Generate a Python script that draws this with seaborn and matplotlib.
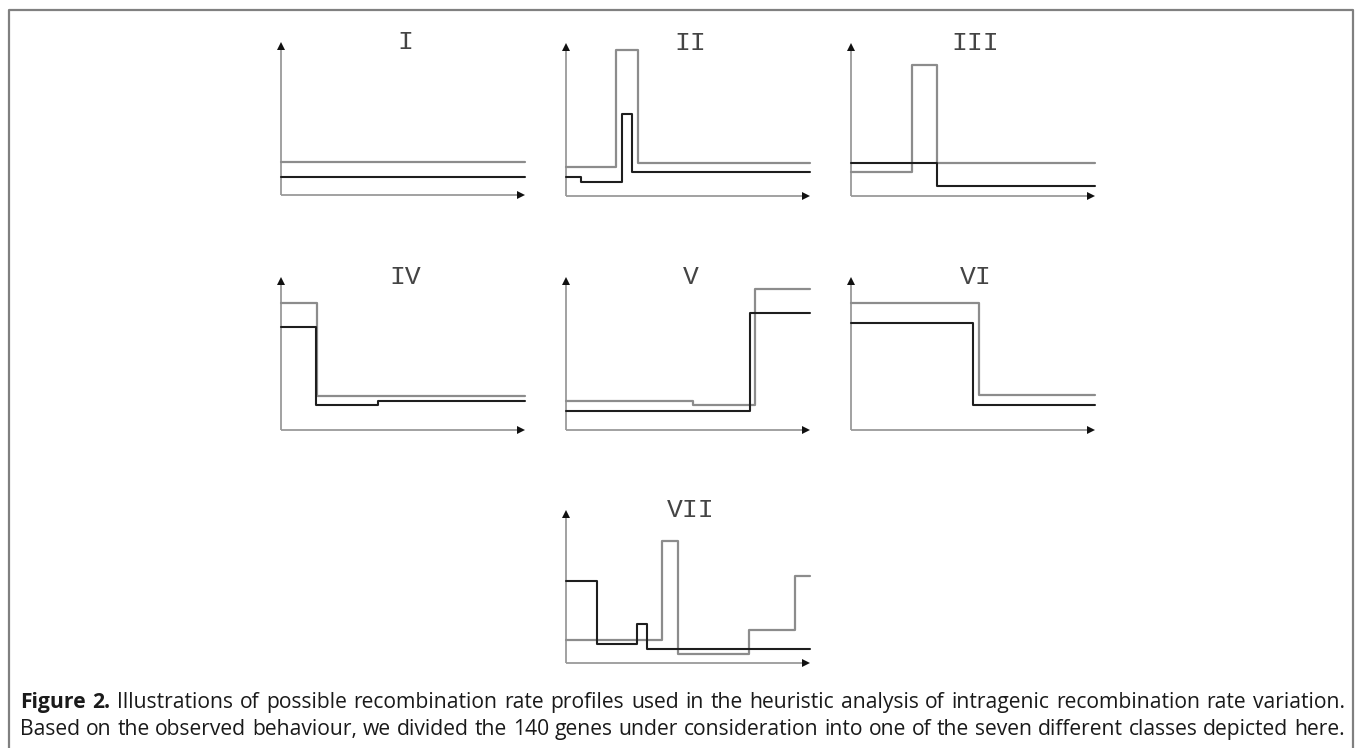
import matplotlib
matplotlib.use("Agg")
import matplotlib.pyplot as plt
import seaborn as sns
from matplotlib.lines import Line2D

sns.set_theme(style="white")
plt.rcParams['font.family'] = ['Open Sans', 'DejaVu Sans']

# ---- data (arbitrary units: x 0..10 along gene, y 0..10 rate) ----
panel_names = ["I", "II", "III", "IV", "V", "VI", "VII"]

gray_x = {
    "I": [0, 10],
    "II": [0, 2.05, 2.94, 10],
    "III": [0, 2.52, 3.54, 10],
    "IV": [0, 1.48, 10],
    "V": [0, 5.22, 7.75, 10],
    "VI": [0, 5.26, 10],
    "VII": [0, 3.95, 4.60, 7.51, 9.38, 10],
}
gray_y = {
    "I": [2.16, 2.16],
    "II": [1.89, 9.52, 2.18, 2.18],
    "III": [1.57, 8.54, 2.18, 2.18],
    "IV": [8.31, 2.24, 2.24],
    "V": [1.91, 1.63, 9.22, 9.22],
    "VI": [8.30, 2.29, 2.29],
    "VII": [1.53, 7.95, 0.61, 2.18, 5.69, 5.69],
}
black_x = {
    "I": [0, 10],
    "II": [0, 0.61, 2.30, 2.71, 10],
    "III": [0, 3.54, 10],
    "IV": [0, 1.45, 3.96, 10],
    "V": [0, 7.54, 10],
    "VI": [0, 5.02, 10],
    "VII": [0, 1.26, 2.92, 3.30, 10],
}
black_y = {
    "I": [1.18, 1.18],
    "II": [1.24, 0.92, 5.39, 1.56, 1.56],
    "III": [2.18, 0.63, 0.63],
    "IV": [6.71, 1.63, 1.90, 1.90],
    "V": [1.26, 7.63, 7.63],
    "VI": [7.00, 1.63, 1.63],
    "VII": [5.36, 1.27, 2.54, 0.90, 0.90],
}

caption_bold = "Figure 2."
caption_line1 = ("Illustrations of possible recombination rate profiles used in the heuristic "
                 "analysis of intragenic recombination rate variation.")
caption_line2 = ("Based on the observed behaviour, we divided the 140 genes under consideration "
                 "into one of the seven different classes depicted here.")

# ---- layout (pixels) ----
W, H = 1362, 748
fig = plt.figure(figsize=(W / 100, H / 100), dpi=100)
fig.patch.set_facecolor("white")

origins = {
    "I": (281, 195), "II": (566, 196), "III": (851, 196),
    "IV": (281, 430), "V": (566, 430), "VI": (851, 430),
    "VII": (566, 663),
}
PW, PH = 244, 153

GRAY = "#8c8c8c"
BLACK = "#1e1e1e"
AXC = "#9a9a9a"

for name in panel_names:
    x0, yb = origins[name]
    ax = fig.add_axes([x0 / W, 1 - yb / H, PW / W, PH / H])
    ax.set_xlim(0, 10)
    ax.set_ylim(0, 10)
    ax.axis("off")
    ax.plot([0, 0], [0, 9.6], color=AXC, lw=1.3, clip_on=False, solid_capstyle="butt")
    ax.plot([0, 9.7], [0, 0], color=AXC, lw=1.3, clip_on=False, solid_capstyle="butt")
    ax.plot([0], [9.72], marker="^", ms=5.5, color="#111111", clip_on=False, markeredgewidth=0)
    ax.plot([9.82], [0], marker=">", ms=5.5, color="#111111", clip_on=False, markeredgewidth=0)
    sns.lineplot(x=gray_x[name], y=gray_y[name], drawstyle="steps-post", color=GRAY,
                 lw=1.6, ax=ax, estimator=None, clip_on=False)
    sns.lineplot(x=black_x[name], y=black_y[name], drawstyle="steps-post", color=BLACK,
                 lw=1.5, ax=ax, estimator=None, clip_on=False)
    ax.text(5.1, 10.0, name, family="Liberation Mono", fontsize=19, color="#444444",
            ha="center", va="center")

# ---- frame ----
fc = "#808080"
fig.add_artist(Line2D([9 / W, 9 / W, 1353 / W, 1353 / W],
                      [0, 1 - 10 / H, 1 - 10 / H, 0],
                      transform=fig.transFigure, color=fc, lw=1.6))

# ---- caption (justified between x=20 and x=1345) ----
words1 = [(w, "bold") for w in caption_bold.split()] + [(w, "normal") for w in caption_line1.split()]
words2 = [(w, "normal") for w in caption_line2.split()]

fig.canvas.draw()
r = fig.canvas.get_renderer()


def measure(words, fs):
    ws = []
    for w, wt in words:
        t = fig.text(0, 0, w, fontsize=fs, fontweight=wt)
        ws.append(t.get_window_extent(renderer=r).width)
        t.remove()
    t = fig.text(0, 0, "a a", fontsize=fs)
    t2 = fig.text(0, 0, "aa", fontsize=fs)
    sp = t.get_window_extent(renderer=r).width - t2.get_window_extent(renderer=r).width
    t.remove(); t2.remove()
    return ws, sp


XL, XR = 20, 1345
target = XR - XL
ws1, sp = measure(words1, 10)
ws2, _ = measure(words2, 10)
nat1 = sum(ws1) + sp * (len(ws1) - 1)
nat2 = sum(ws2) + sp * (len(ws2) - 1)
fs = 10 * target / max(nat1, nat2)


def place(words, ybase):
    ws, _ = measure(words, fs)
    gap = (target - sum(ws)) / (len(ws) - 1)
    x = XL
    for (w, wt), wd in zip(words, ws):
        fig.text(x / W, 1 - ybase / H, w, fontsize=fs, fontweight=wt, color="#1a1a1a",
                 va="baseline", ha="left")
        x += wd + gap


place(words1, 708)
place(words2, 735)

fig.savefig("out.png", dpi=100, facecolor="white")
